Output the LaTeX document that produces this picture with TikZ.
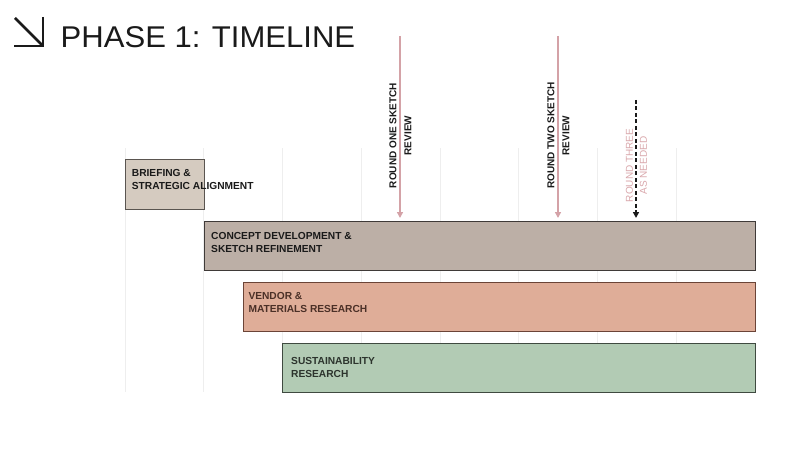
\documentclass[tikz,border=0pt]{standalone}
\usepackage{fontspec}
\setmainfont{Liberation Sans}
\usetikzlibrary{arrows.meta}
\definecolor{ink}{HTML}{1A1A1A}
\definecolor{gridc}{HTML}{EEEEEE}
\definecolor{briefc}{HTML}{D5CBC0}
\definecolor{briefb}{HTML}{5A5550}
\definecolor{conceptc}{HTML}{BCAFA6}
\definecolor{conceptb}{HTML}{3F3A38}
\definecolor{vendorc}{HTML}{DFAD98}
\definecolor{vendorb}{HTML}{6B4437}
\definecolor{sustc}{HTML}{B2CBB4}
\definecolor{sustb}{HTML}{3F4A40}
\definecolor{pinkc}{HTML}{D4A2A7}
\definecolor{pinkt}{HTML}{D9A7AB}
\tikzset{
  phasebox/.style={draw, line width=1pt, inner sep=0pt, outer sep=0pt, anchor=north west},
  boxlabel/.style={anchor=north west, inner sep=0pt, align=left, font=\fontsize{10.2}{13}\selectfont\bfseries, text=ink},
  reviewlabel/.style={rotate=90, inner sep=0pt, align=center, font=\fontsize{10}{15}\selectfont\bfseries, text=ink},
  reviewarrow/.style={draw=pinkc, line width=1.5pt, -{Triangle[width=6pt,length=6pt]}, pinkc},
  optarrow/.style={draw=ink, line width=1.5pt, dash pattern=on 4pt off 2.5pt, -{Triangle[width=6pt,length=6pt]}, ink},
  gridline/.style={draw=gridc, line width=0.8pt}
}
\begin{document}
\begin{tikzpicture}[x=1pt,y=-1pt]
\useasboundingbox (0,0) rectangle (800,473);
% title icon
\draw[ink, line width=2.6pt] (43,17) -- (43,46) -- (14,46);
\draw[ink, line width=2.6pt] (15,18) -- (42,45);
\node[anchor=base west, inner sep=0pt, xscale=1.035, font=\fontsize{30}{30}\selectfont, text=ink] (title) at (60.5,47.5) {PHASE 1: TIMELINE};
% grid
\foreach \k in {0,...,7} {
  \draw[gridline] ({125+78.75*\k},148) -- ({125+78.75*\k},392);
}
% boxes
\node[phasebox, fill=briefc, draw=briefb, minimum width=79pt, minimum height=49.5pt] (brief) at (125,160) {};
\node[phasebox, fill=conceptc, draw=conceptb, minimum width=551pt, minimum height=49pt] (concept) at (204,221) {};
\node[phasebox, fill=vendorc, draw=vendorb, minimum width=512pt, minimum height=49pt] (vendor) at (243,282.3) {};
\node[phasebox, fill=sustc, draw=sustb, minimum width=473pt, minimum height=49pt] (sust) at (282.5,343.3) {};
% box labels
\node[boxlabel] (brieft) at (131.7,169.3) {BRIEFING \&\\STRATEGIC ALIGNMENT};
\node[boxlabel] (conceptt) at (211,232.3) {CONCEPT DEVELOPMENT \&\\SKETCH REFINEMENT};
\node[boxlabel, text=vendorb!70!black] (vendort) at (248.3,291.7) {VENDOR \&\\MATERIALS RESEARCH};
\node[boxlabel, text=sustb!70!black] (sustt) at (291,356.7) {SUSTAINABILITY\\RESEARCH};
% review arrows
\coordinate (r1) at (400,36);
\coordinate (r2) at (558,36);
\coordinate (r3) at (636,100);
\draw[reviewarrow, shorten >=3pt] (r1) -- (r1 |- concept.north);
\draw[reviewarrow, shorten >=3pt] (r2) -- (r2 |- concept.north);
\draw[optarrow, shorten >=3pt] (r3) -- (r3 |- concept.north);
\node[reviewlabel] (r1t) at (400.5,135.5) {ROUND ONE SKETCH\\REVIEW};
\node[reviewlabel] (r2t) at (558.5,135.5) {ROUND TWO SKETCH\\REVIEW};
\node[reviewlabel, font=\fontsize{10}{14}\selectfont, text=pinkt] (r3t) at (636.5,165.5) {ROUND THREE\\AS NEEDED};
\end{tikzpicture}
\end{document}
